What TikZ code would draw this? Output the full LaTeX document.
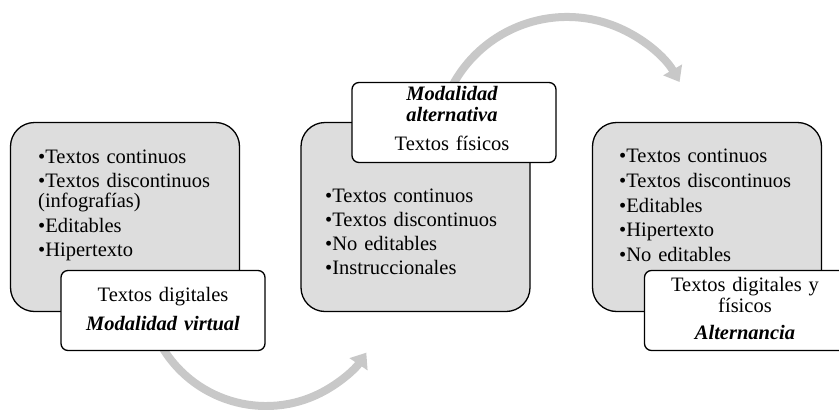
\documentclass[tikz,border=0pt]{standalone}
\usepackage{fontspec}
\setmainfont{Liberation Serif}
\usetikzlibrary{arrows.meta}
\definecolor{boxgray}{RGB}{221,221,221}
\definecolor{arcgray}{RGB}{200,200,200}
\begin{document}
\begin{tikzpicture}[x=1pt,y=-1pt,
  graybox/.style={draw=black,line width=1.3pt,fill=boxgray,rounded corners=24pt,minimum width=229pt,minimum height=189pt,inner sep=0pt},
  whitebox/.style={draw=black,line width=1.3pt,fill=white,rounded corners=7pt,minimum width=204pt,minimum height=80pt,inner sep=0pt},
  listtext/.style={inner sep=0pt,anchor=base west,text width=205pt,align=left,font=\fontsize{20.5}{20.6}\selectfont},
  labeltext/.style={inner sep=0pt,anchor=base,text width=200pt,align=center,font=\fontsize{20.5}{21}\selectfont},
  bendarrow/.style={draw=arcgray,line width=8pt,-{Triangle[width=21pt,length=14pt]}}
]
\useasboundingbox (0,0) rectangle (839,410);
\clip (0,0) rectangle (839,410);
% arc centres
\coordinate (arcA) at (266,285);
\coordinate (arcB) at (567,147);
% connectors (behind the boxes)
\draw[bendarrow] (arcA) ++(208:121pt) arc[start angle=208,end angle=326,radius=121pt];
\draw[bendarrow] (arcB) ++(158:130pt) arc[start angle=158,end angle=30,radius=130pt];
% gray boxes
\node[graybox] (g1) at (125,217) {};
\node[graybox] (g2) at (415.5,217) {};
\node[graybox] (g3) at (707,217) {};
% list texts
\node[listtext] (t1) at (38,163) {•Textos continuos\\[3.7pt]•Textos discontinuos\\(infografías)\\[3.7pt]•Editables\\[3.7pt]•Hipertexto};
\node[listtext] (t2) at (325,202.7) {•Textos continuos\\[3.4pt]•Textos discontinuos\\[3.4pt]•No editables\\[3.4pt]•Instruccionales};
\node[listtext] (t3) at (619,162.7) {•Textos continuos\\[4.1pt]•Textos discontinuos\\[4.1pt]•Editables\\[4.1pt]•Hipertexto\\[4.1pt]•No editables};
% white boxes
\node[whitebox] (w1) at (163,310.5) {};
\node[whitebox] (w2) at (454,122.5) {};
\node[whitebox] (w3) at (746.5,310.5) {};
\node[labeltext] (l1) at (163,301.7) {Textos digitales\\[7.3pt]\textbf{\textit{Modalidad virtual}}};
\node[labeltext] (l2) at (452,100.7) {\textbf{\textit{Modalidad\\alternativa}}\\[8pt]Textos físicos};
\node[labeltext] (l3) at (745,291.7) {Textos digitales y\\físicos\\[5.6pt]\textbf{\textit{Alternancia}}};
\end{tikzpicture}
\end{document}
